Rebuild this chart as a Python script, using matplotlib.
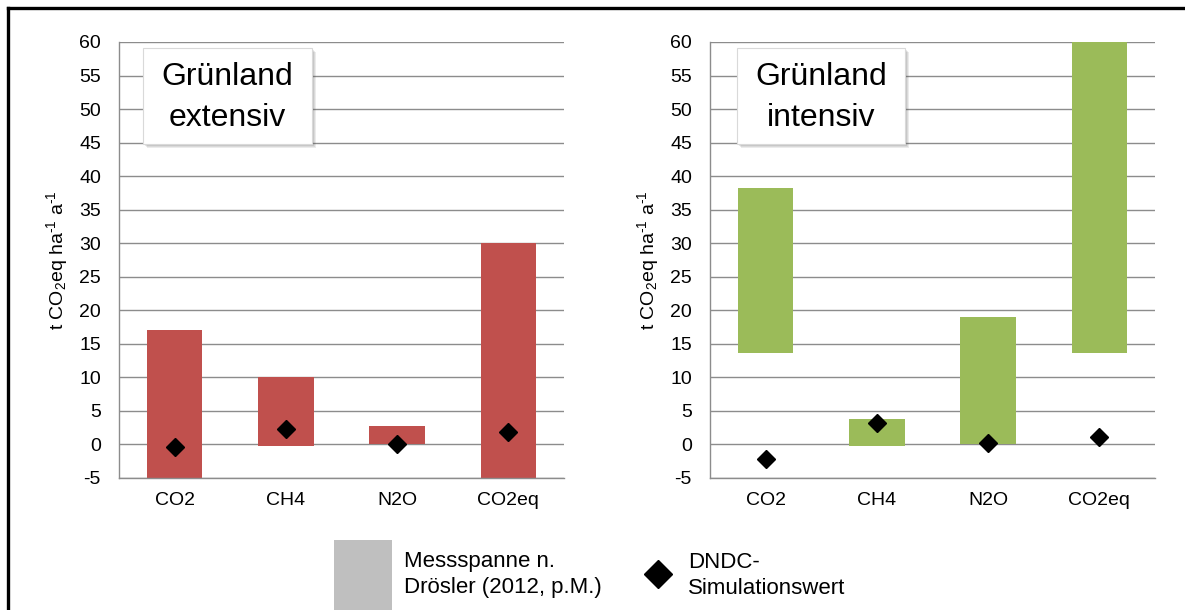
import matplotlib
matplotlib.use("Agg")
import matplotlib.pyplot as plt
from matplotlib.patches import Rectangle
from matplotlib.lines import Line2D

plt.rcParams['font.family'] = ['Liberation Sans', 'DejaVu Sans']
plt.rcParams['mathtext.fontset'] = 'custom'
plt.rcParams['mathtext.rm'] = 'Liberation Sans'
plt.rcParams['mathtext.it'] = 'Liberation Sans'

categories = ['CO2', 'CH4', 'N2O', 'CO2eq']
ext_low = [-5.0, -0.25, 0.0, -5.2]
ext_high = [17.0, 10.1, 2.7, 30.0]
ext_sim = [-0.4, 2.3, 0.1, 1.8]
int_low = [13.7, -0.25, 0.0, 13.7]
int_high = [38.3, 3.8, 19.0, 60.0]
int_sim = [-2.2, 3.2, 0.2, 1.1]
yticks = list(range(-5, 61, 5))
titles = [('Grünland', 'extensiv'), ('Grünland', 'intensiv')]
legend_bar = ('Messspanne n.', 'Drösler (2012, p.M.)')
legend_dot = ('DNDC-', 'Simulationswert')
colors = ['#C0504D', '#9BBB59']

W, H = 1185, 610
fig = plt.figure(figsize=(W / 100, H / 100), dpi=100)

def px(x0, y0, x1, y1):
    return [x0 / W, 1 - y1 / H, (x1 - x0) / W, (y1 - y0) / H]

axes_px = [(119, 42, 564, 478), (710, 42, 1155, 478)]
box_px = [(143, 48, 312, 144), (737, 48, 905, 144)]
datasets = [(ext_low, ext_high, ext_sim), (int_low, int_high, int_sim)]

for i, (apx, bpx, (lo, hi, sim), col, ttl) in enumerate(zip(axes_px, box_px, datasets, colors, titles)):
    ax = fig.add_axes(px(*apx))
    xs = list(range(len(categories)))
    heights = [h - l for l, h in zip(lo, hi)]
    ax.bar(xs, heights, bottom=lo, width=0.5, color=col, edgecolor='none', zorder=2, clip_on=False)
    ax.plot(xs, sim, linestyle='none', marker='D', markersize=9, color='black', zorder=3, clip_on=False)
    ax.set_xlim(-0.5, len(categories) - 0.5)
    ax.set_ylim(-5, 60)
    ax.set_yticks(yticks)
    ax.set_yticklabels([str(t) for t in yticks], fontsize=14)
    ax.set_xticks(xs)
    ax.set_xticklabels(categories, fontsize=14)
    ax.tick_params(axis='both', length=0)
    ax.tick_params(axis='y', pad=13)
    ax.tick_params(axis='x', pad=10)
    ax.grid(axis='y', color='#8C8C8C', linewidth=1.0, zorder=1)
    ax.set_axisbelow(True)
    for s in ['top', 'right']:
        ax.spines[s].set_visible(False)
    for s in ['left', 'bottom']:
        ax.spines[s].set_color('#8C8C8C')
        ax.spines[s].set_linewidth(1.0)
    ax.set_ylabel(r't CO$_2$eq ha$^{\text{-1}}$ a$^{\text{-1}}$', fontsize=14)
    ax.yaxis.set_label_coords(-0.11, 0.5)

    # title box with shadow
    x0, y0, x1, y1 = bpx
    for k, a in enumerate([0.10, 0.10, 0.12, 0.15]):
        off = 4 - k
        fig.patches.append(Rectangle(((x0 + off) / W, 1 - (y1 + off) / H), (x1 - x0) / W, (y1 - y0) / H,
                                     transform=fig.transFigure, facecolor='#404040', alpha=a,
                                     edgecolor='none', zorder=5))
    fig.patches.append(Rectangle((x0 / W, 1 - y1 / H), (x1 - x0) / W, (y1 - y0) / H,
                                 transform=fig.transFigure, facecolor='white',
                                 edgecolor='#D9D9D9', linewidth=0.8, zorder=6))
    cx = (x0 + x1) / 2 / W
    fig.text(cx, 1 - 77 / H, ttl[0], ha='center', va='center', fontsize=23, zorder=7)
    fig.text(cx, 1 - 118 / H, ttl[1], ha='center', va='center', fontsize=23, zorder=7)

# frame
fig.add_artist(Line2D([8 / W, 1], [1 - 8 / H, 1 - 8 / H], color='black', linewidth=2.4,
                      transform=fig.transFigure))
fig.add_artist(Line2D([8 / W, 8 / W], [0, 1 - 8 / H], color='black', linewidth=2.4,
                      transform=fig.transFigure))

# legend
fig.patches.append(Rectangle((334 / W, 0), 58 / W, 70 / H, transform=fig.transFigure,
                             facecolor='#BFBFBF', edgecolor='none'))
fig.text(404 / W, 1 - 562 / H, legend_bar[0], ha='left', va='center', fontsize=16)
fig.text(404 / W, 1 - 588 / H, legend_bar[1], ha='left', va='center', fontsize=16)
fig.add_artist(Line2D([658 / W], [1 - 574 / H], marker='D', markersize=14, color='black',
                      linestyle='none', transform=fig.transFigure))
fig.text(688 / W, 1 - 562 / H, legend_dot[0], ha='left', va='center', fontsize=16)
fig.text(688 / W, 1 - 588 / H, legend_dot[1], ha='left', va='center', fontsize=16)

fig.savefig('out.png', dpi=100)
